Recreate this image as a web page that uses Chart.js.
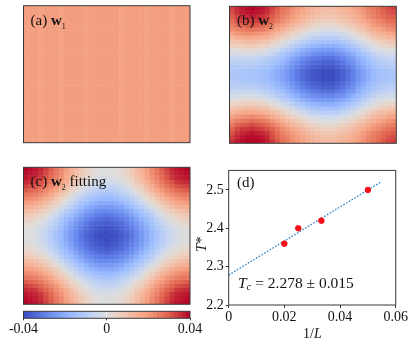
<!DOCTYPE html>
<html><head><meta charset="utf-8">
<script src="https://cdn.jsdelivr.net/npm/chart.js@4"></script>
<style>
html,body{margin:0;padding:0;background:#fff;width:415px;height:344px;overflow:hidden}
canvas{position:absolute}
</style></head>
<body>
<canvas id="pa"></canvas><canvas id="pb"></canvas><canvas id="pc"></canvas><canvas id="cb"></canvas><canvas id="pd"></canvas>
<script>
// values in units of 0.001
const w1Row=[19,19,19,18,19,19,19,18,19,19,19,19,18,19,19,19,19,19,19,18,19,19,19,19,18,19,19,19,19,18,19,19,19];
const w2=[
[33,36,38,39,40,39,38,36,33,30,27,25,22,20,18,16,14,13,12,12,12,13,14,15,17,19,21,24,26,28,30,32,33],
[32,35,37,38,39,38,37,35,32,29,26,24,21,19,17,15,13,12,11,11,11,12,13,14,16,18,20,23,25,27,29,31,32],
[30,33,35,36,37,36,35,33,30,27,24,22,19,17,15,13,11,10,9,9,9,10,11,12,14,16,19,22,24,26,28,29,30],
[28,31,33,33,34,33,32,30,28,25,22,20,17,15,12,10,8,7,6,6,6,8,9,10,12,14,16,19,21,23,25,27,28],
[25,28,29,30,31,30,29,27,24,21,19,16,13,11,9,7,5,4,3,3,3,4,5,7,9,11,13,16,19,21,22,24,25],
[22,24,25,26,27,26,25,23,20,18,15,12,10,7,5,3,1,0,-1,-1,-1,0,2,3,5,8,10,13,15,17,19,21,22],
[18,20,21,22,22,21,20,19,16,13,11,8,5,3,1,-1,-3,-4,-5,-5,-5,-4,-3,-1,1,4,6,9,12,14,15,17,18],
[13,15,16,17,17,16,15,14,11,9,6,4,1,-2,-4,-6,-8,-9,-10,-10,-10,-9,-7,-6,-3,0,2,5,8,10,11,13,13],
[9,10,11,12,12,11,10,9,6,4,1,-1,-4,-7,-9,-11,-13,-14,-15,-15,-15,-14,-12,-10,-8,-5,-2,1,3,5,7,8,9],
[5,6,6,7,7,6,5,4,1,-1,-3,-6,-9,-12,-14,-16,-18,-19,-20,-20,-20,-19,-17,-15,-12,-9,-6,-3,-1,1,3,4,5],
[0,1,2,2,3,2,1,-1,-3,-5,-8,-10,-13,-16,-19,-21,-23,-24,-25,-25,-25,-23,-21,-19,-16,-13,-10,-7,-4,-2,-1,0,0],
[-3,-3,-2,-2,-2,-3,-4,-5,-7,-10,-12,-15,-18,-20,-23,-25,-27,-28,-29,-29,-29,-27,-26,-23,-20,-17,-14,-11,-8,-6,-5,-4,-3],
[-7,-6,-6,-6,-6,-7,-8,-9,-11,-13,-15,-18,-21,-24,-27,-29,-31,-32,-33,-33,-33,-31,-29,-26,-24,-20,-17,-14,-11,-9,-8,-7,-7],
[-9,-9,-9,-9,-9,-10,-11,-12,-14,-16,-18,-21,-24,-27,-30,-32,-34,-35,-36,-36,-36,-34,-32,-29,-26,-22,-19,-16,-14,-12,-10,-9,-9],
[-11,-11,-11,-11,-11,-12,-13,-14,-16,-18,-20,-23,-26,-29,-32,-34,-36,-37,-38,-38,-38,-36,-34,-31,-28,-24,-21,-18,-15,-13,-12,-11,-11],
[-12,-12,-13,-13,-13,-14,-15,-16,-18,-20,-22,-25,-28,-31,-34,-36,-38,-39,-40,-40,-40,-38,-36,-33,-30,-26,-23,-20,-17,-15,-14,-13,-12],
[-13,-13,-13,-13,-13,-14,-15,-16,-18,-20,-22,-25,-28,-31,-34,-36,-38,-39,-40,-40,-40,-38,-36,-33,-30,-26,-23,-20,-17,-15,-14,-13,-13],
[-12,-12,-13,-13,-13,-14,-15,-16,-18,-20,-22,-25,-28,-31,-34,-36,-38,-39,-40,-40,-40,-38,-36,-33,-30,-26,-23,-20,-17,-15,-14,-13,-12],
[-11,-11,-11,-11,-11,-12,-13,-14,-16,-18,-20,-23,-26,-29,-32,-34,-36,-37,-38,-38,-38,-36,-34,-31,-28,-24,-21,-18,-15,-13,-12,-11,-11],
[-9,-9,-9,-9,-9,-10,-11,-12,-14,-16,-18,-21,-24,-27,-30,-32,-34,-35,-36,-36,-36,-34,-32,-29,-26,-22,-19,-16,-14,-12,-10,-9,-9],
[-7,-6,-6,-6,-6,-7,-8,-9,-11,-13,-15,-18,-21,-24,-27,-29,-31,-32,-33,-33,-33,-31,-29,-26,-24,-20,-17,-14,-11,-9,-8,-7,-7],
[-3,-3,-2,-2,-2,-3,-4,-5,-7,-10,-12,-15,-18,-20,-23,-25,-27,-28,-29,-29,-29,-27,-26,-23,-20,-17,-14,-11,-8,-6,-5,-4,-3],
[0,1,2,2,3,2,1,-1,-3,-5,-8,-10,-13,-16,-19,-21,-23,-24,-25,-25,-25,-23,-21,-19,-16,-13,-10,-7,-4,-2,-1,0,0],
[5,6,6,7,7,6,5,4,1,-1,-3,-6,-9,-12,-14,-16,-18,-19,-20,-20,-20,-19,-17,-15,-12,-9,-6,-3,-1,1,3,4,5],
[9,10,11,12,12,11,10,9,6,4,1,-1,-4,-7,-9,-11,-13,-14,-15,-15,-15,-14,-12,-10,-8,-5,-2,1,3,5,7,8,9],
[13,15,16,17,17,16,15,14,11,9,6,4,1,-2,-4,-6,-8,-9,-10,-10,-10,-9,-7,-6,-3,0,2,5,8,10,11,13,13],
[18,20,21,22,23,22,21,19,16,14,11,8,5,3,1,-1,-3,-4,-5,-5,-5,-4,-3,-1,1,4,6,9,12,14,15,17,18],
[22,24,26,27,28,27,26,24,21,18,15,12,10,7,5,3,1,0,-1,-1,-1,0,2,3,5,8,10,13,15,17,19,21,22],
[26,29,30,31,32,31,30,28,25,22,19,16,13,11,9,7,5,4,3,3,3,4,5,7,9,11,13,16,19,21,22,24,25],
[29,32,34,34,35,34,33,31,29,26,22,20,17,15,12,10,8,7,6,6,6,8,9,10,12,14,16,19,21,23,25,27,28],
[31,34,36,37,38,37,36,34,31,28,24,22,19,17,15,13,11,10,9,9,9,10,11,12,14,16,19,22,24,26,28,29,30],
[33,36,38,39,39,39,38,36,32,29,26,24,21,19,17,15,13,12,11,11,11,12,13,14,16,18,20,23,25,27,29,31,32],
[35,38,39,40,40,40,39,37,34,31,27,25,22,20,18,16,14,13,12,12,12,13,14,15,17,19,21,24,26,28,30,32,33]
];
const w2fit=[
[40,39,38,36,33,30,26,23,19,15,12,8,5,3,1,0,0,0,1,3,5,8,12,15,19,23,26,30,33,36,38,39,40],
[39,38,37,35,32,29,26,22,18,15,11,8,5,2,1,0,-1,0,1,2,5,8,11,15,18,22,26,29,32,35,37,38,39],
[38,37,36,34,31,28,24,21,17,13,10,6,3,1,-1,-2,-2,-2,-1,1,3,6,10,13,17,21,24,28,31,34,36,37,38],
[36,35,34,31,29,26,22,19,15,11,7,4,1,-1,-3,-4,-4,-4,-3,-1,1,4,7,11,15,19,22,26,29,31,34,35,36],
[33,32,31,29,26,23,20,16,12,8,5,2,-1,-4,-6,-7,-7,-7,-6,-4,-1,2,5,8,12,16,20,23,26,29,31,32,33],
[30,29,28,26,23,20,17,13,9,5,2,-2,-5,-7,-9,-10,-10,-10,-9,-7,-5,-2,2,5,9,13,17,20,23,26,28,29,30],
[26,26,24,22,20,17,13,9,6,2,-2,-5,-8,-10,-12,-13,-14,-13,-12,-10,-8,-5,-2,2,6,9,13,17,20,22,24,26,26],
[23,22,21,19,16,13,9,6,2,-2,-6,-9,-12,-14,-16,-17,-17,-17,-16,-14,-12,-9,-6,-2,2,6,9,13,16,19,21,22,23],
[19,18,17,15,12,9,6,2,-2,-6,-9,-13,-16,-18,-20,-21,-21,-21,-20,-18,-16,-13,-9,-6,-2,2,6,9,12,15,17,18,19],
[15,15,13,11,8,5,2,-2,-6,-9,-13,-16,-19,-22,-23,-24,-25,-24,-23,-22,-19,-16,-13,-9,-6,-2,2,5,8,11,13,15,15],
[12,11,10,7,5,2,-2,-6,-9,-13,-17,-20,-23,-25,-27,-28,-28,-28,-27,-25,-23,-20,-17,-13,-9,-6,-2,2,5,7,10,11,12],
[8,8,6,4,2,-2,-5,-9,-13,-16,-20,-23,-26,-28,-30,-31,-32,-31,-30,-28,-26,-23,-20,-16,-13,-9,-5,-2,2,4,6,8,8],
[5,5,3,1,-1,-5,-8,-12,-16,-19,-23,-26,-29,-31,-33,-34,-35,-34,-33,-31,-29,-26,-23,-19,-16,-12,-8,-5,-1,1,3,5,5],
[3,2,1,-1,-4,-7,-10,-14,-18,-22,-25,-28,-31,-34,-35,-36,-37,-36,-35,-34,-31,-28,-25,-22,-18,-14,-10,-7,-4,-1,1,2,3],
[1,1,-1,-3,-6,-9,-12,-16,-20,-23,-27,-30,-33,-35,-37,-38,-39,-38,-37,-35,-33,-30,-27,-23,-20,-16,-12,-9,-6,-3,-1,1,1],
[0,0,-2,-4,-7,-10,-13,-17,-21,-24,-28,-31,-34,-36,-38,-39,-40,-39,-38,-36,-34,-31,-28,-24,-21,-17,-13,-10,-7,-4,-2,0,0],
[0,-1,-2,-4,-7,-10,-14,-17,-21,-25,-28,-32,-35,-37,-39,-40,-40,-40,-39,-37,-35,-32,-28,-25,-21,-17,-14,-10,-7,-4,-2,-1,0],
[0,0,-2,-4,-7,-10,-13,-17,-21,-24,-28,-31,-34,-36,-38,-39,-40,-39,-38,-36,-34,-31,-28,-24,-21,-17,-13,-10,-7,-4,-2,0,0],
[1,1,-1,-3,-6,-9,-12,-16,-20,-23,-27,-30,-33,-35,-37,-38,-39,-38,-37,-35,-33,-30,-27,-23,-20,-16,-12,-9,-6,-3,-1,1,1],
[3,2,1,-1,-4,-7,-10,-14,-18,-22,-25,-28,-31,-34,-35,-36,-37,-36,-35,-34,-31,-28,-25,-22,-18,-14,-10,-7,-4,-1,1,2,3],
[5,5,3,1,-1,-5,-8,-12,-16,-19,-23,-26,-29,-31,-33,-34,-35,-34,-33,-31,-29,-26,-23,-19,-16,-12,-8,-5,-1,1,3,5,5],
[8,8,6,4,2,-2,-5,-9,-13,-16,-20,-23,-26,-28,-30,-31,-32,-31,-30,-28,-26,-23,-20,-16,-13,-9,-5,-2,2,4,6,8,8],
[12,11,10,7,5,2,-2,-6,-9,-13,-17,-20,-23,-25,-27,-28,-28,-28,-27,-25,-23,-20,-17,-13,-9,-6,-2,2,5,7,10,11,12],
[15,15,13,11,8,5,2,-2,-6,-9,-13,-16,-19,-22,-23,-24,-25,-24,-23,-22,-19,-16,-13,-9,-6,-2,2,5,8,11,13,15,15],
[19,18,17,15,12,9,6,2,-2,-6,-9,-13,-16,-18,-20,-21,-21,-21,-20,-18,-16,-13,-9,-6,-2,2,6,9,12,15,17,18,19],
[23,22,21,19,16,13,9,6,2,-2,-6,-9,-12,-14,-16,-17,-17,-17,-16,-14,-12,-9,-6,-2,2,6,9,13,16,19,21,22,23],
[26,26,24,22,20,17,13,9,6,2,-2,-5,-8,-10,-12,-13,-14,-13,-12,-10,-8,-5,-2,2,6,9,13,17,20,22,24,26,26],
[30,29,28,26,23,20,17,13,9,5,2,-2,-5,-7,-9,-10,-10,-10,-9,-7,-5,-2,2,5,9,13,17,20,23,26,28,29,30],
[33,32,31,29,26,23,20,16,12,8,5,2,-1,-4,-6,-7,-7,-7,-6,-4,-1,2,5,8,12,16,20,23,26,29,31,32,33],
[36,35,34,31,29,26,22,19,15,11,7,4,1,-1,-3,-4,-4,-4,-3,-1,1,4,7,11,15,19,22,26,29,31,34,35,36],
[38,37,36,34,31,28,24,21,17,13,10,6,3,1,-1,-2,-2,-2,-1,1,3,6,10,13,17,21,24,28,31,34,36,37,38],
[39,38,37,35,32,29,26,22,18,15,11,8,5,2,1,0,-1,0,1,2,5,8,11,15,18,22,26,29,32,35,37,38,39],
[40,39,38,36,33,30,26,23,19,15,12,8,5,3,1,0,0,0,1,3,5,8,12,15,19,23,26,30,33,36,38,39,40]
];
const cbarLevels=[-40,-38,-36,-34,-32,-30,-28,-26,-24,-22,-20,-18,-16,-14,-12,-10,-8,-6,-4,-2,0,2,4,6,8,10,12,14,16,18,20,22,24,26,28,30,32,34,36,38];
const cbarTicks=[-0.04,0,0.04];
const invL=[0.02,0.025,0.0333,0.05];
const Tstar=[2.36,2.40,2.42,2.50];
const fitX=[0,0.0545];
const fitY=[2.278,2.52];
const xTicksD=[0,0.02,0.04,0.06];
const yTicksD=[2.2,2.3,2.4,2.5];

// coolwarm colormap
const cmapStops=[[0,59,76,192],[.143,103,136,238],[.286,154,187,255],[.429,201,215,240],[.5,221,221,221],[.571,237,209,194],[.714,247,168,137],[.857,226,105,82],[1,180,4,38]];
function cw(v){
  const t=Math.max(0,Math.min(1,(v+40)/80));
  for(let i=1;i<cmapStops.length;i++){
    if(t<=cmapStops[i][0]){
      const a=cmapStops[i-1],b=cmapStops[i],f=(t-a[0])/(b[0]-a[0]);
      return `rgb(${[1,2,3].map(k=>Math.round(a[k]+(b[k]-a[k])*f)).join(',')})`;
    }
  }
  return 'rgb(180,4,38)';
}
const SERIF='"Liberation Serif","Times New Roman",serif';
const FRAME='#3a3a3a';
function runs(ctx,x,y,parts){
  ctx.save();ctx.textBaseline='alphabetic';ctx.textAlign='left';ctx.fillStyle='#111';
  for(const [t,f,dy] of parts){ctx.font=f+' '+SERIF;ctx.fillText(t,x,y+(dy||0));x+=ctx.measureText(t).width;}
  ctx.restore();
}
function framePlugin(extra){
  return {id:'frame',afterDraw(chart){
    const {ctx,chartArea:a}=chart;
    ctx.save();ctx.strokeStyle=FRAME;ctx.lineWidth=1;ctx.strokeRect(a.left,a.top,a.right-a.left,a.bottom-a.top);ctx.restore();
    if(extra)extra(chart);
  }};
}
function size(id,l,t,w,h){const c=document.getElementById(id);c.width=w;c.height=h;c.style.left=l+'px';c.style.top=t+'px';c.style.width=w+'px';c.style.height=h+'px';return c;}

function heat(id,rows,cv,box,label){
  const c=size(id,cv[0],cv[1],cv[2],cv[3]);
  const cols=rows[0].map((_,i)=>i);
  new Chart(c,{type:'bar',
    data:{labels:cols,datasets:rows.map((row,r)=>({data:row.map(()=>[r,r+1]),backgroundColor:row.map(cw),borderWidth:0,inflateAmount:0.25,barPercentage:1,categoryPercentage:1,grouped:false}))},
    options:{responsive:false,animation:false,devicePixelRatio:1,
      layout:{padding:{left:box[0]-cv[0],top:box[1]-cv[1],right:cv[0]+cv[2]-box[2],bottom:cv[1]+cv[3]-box[3]}},
      plugins:{legend:{display:false},tooltip:{enabled:false}},
      scales:{x:{display:false},y:{display:false,reverse:true,min:0,max:rows.length}}},
    plugins:[framePlugin(ch=>label(ch.ctx))]});
}
heat('pa',w1Row.map(()=>w1Row),[0,0,208,160],[23.5,5.7,190,142.7],ctx=>runs(ctx,30.5,25,[['(a) ','15px'],['w','bold 15px'],['1','8px',4]]));
heat('pb',w2,[208,0,207,160],[229.5,6.3,396.3,143.3],ctx=>runs(ctx,237-208,25,[['(b) ','15px'],['w','bold 15px'],['2','8px',4]]));
heat('pc',w2fit,[0,160,195,148],[23.5,167.3,190,304.3],ctx=>runs(ctx,30.5,26,[['(c) ','15px'],['w','bold 15px'],['2','8px',4],[' fitting','15px']]));

// colorbar
(function(){
  const c=size('cb',0,306,208,38);
  new Chart(c,{type:'bar',
    data:{labels:[''],datasets:cbarLevels.map(v=>({data:[[v/1000,(v+2)/1000]],backgroundColor:cw(v+1),borderWidth:0,inflateAmount:0.25,barPercentage:1,categoryPercentage:1,grouped:false}))},
    options:{indexAxis:'y',responsive:false,animation:false,devicePixelRatio:1,
      layout:{padding:{left:23.5,right:18,top:5.3,bottom:0}},
      plugins:{legend:{display:false},tooltip:{enabled:false}},
      scales:{
        y:{display:false},
        x:{min:-0.04,max:0.04,afterBuildTicks(s){s.ticks=cbarTicks.map(value=>({value}));},afterFit(s){s.height=25.7;},
          grid:{drawOnChartArea:false,drawTicks:true,tickLength:2,color:FRAME},border:{display:false},
          ticks:{maxRotation:0,autoSkip:false,padding:1,color:'#111',font:{family:SERIF,size:14},callback:v=>v===0?'0':v.toFixed(2)}}
      }},
    plugins:[framePlugin()]});
})();

// panel d
(function(){
  const c=size('pd',195,160,220,184);
  new Chart(c,{type:'scatter',
    data:{datasets:[
      {type:'line',data:fitX.map((x,i)=>({x,y:fitY[i]})),borderColor:'#2f83c6',borderWidth:1.3,borderDash:[1.6,1.6],pointRadius:0,fill:false,order:2},
      {data:invL.map((x,i)=>({x,y:Tstar[i]})),backgroundColor:'#f5101a',borderColor:'#f5101a',pointRadius:2.8,order:1}
    ]},
    options:{responsive:false,animation:false,devicePixelRatio:1,
      layout:{padding:{left:0,right:19.3,top:8.3,bottom:0}},
      plugins:{legend:{display:false},tooltip:{enabled:false}},
      scales:{
        x:{type:'linear',min:0,max:0.06,afterBuildTicks(s){s.ticks=xTicksD.map(value=>({value}));},afterFit(s){s.height=39;},
          grid:{drawOnChartArea:false,tickLength:3,color:FRAME},border:{display:false},
          ticks:{maxRotation:0,autoSkip:false,padding:1,color:'#111',font:{family:SERIF,size:14},callback:v=>v===0?'0':v.toFixed(2)}},
        y:{type:'linear',min:2.2,max:2.551,afterBuildTicks(s){s.ticks=yTicksD.map(value=>({value}));},afterFit(s){s.width=33.7;},
          grid:{drawOnChartArea:false,tickLength:3,color:FRAME},border:{display:false},
          ticks:{autoSkip:false,padding:2,color:'#111',font:{family:SERIF,size:14},callback:v=>v.toFixed(1)}}
      }},
    plugins:[framePlugin(ch=>{
      const ctx=ch.ctx;
      runs(ctx,237-195,187-160,[['(d)','15px']]);
      runs(ctx,238-195,288-160,[['T','italic 15.5px'],['c','italic 10.5px',2],[' = 2.278 ± 0.015','15.5px']]);
      runs(ctx,303-195,338-160,[['1/','14px'],['L','italic 14px']]);
      ctx.save();ctx.translate(205.5-195,252-160);ctx.rotate(-Math.PI/2);
      runs(ctx,0,0,[['T','italic 15px'],['*','15px']]);
      ctx.restore();
    })]});
})();
</script>
</body></html>
